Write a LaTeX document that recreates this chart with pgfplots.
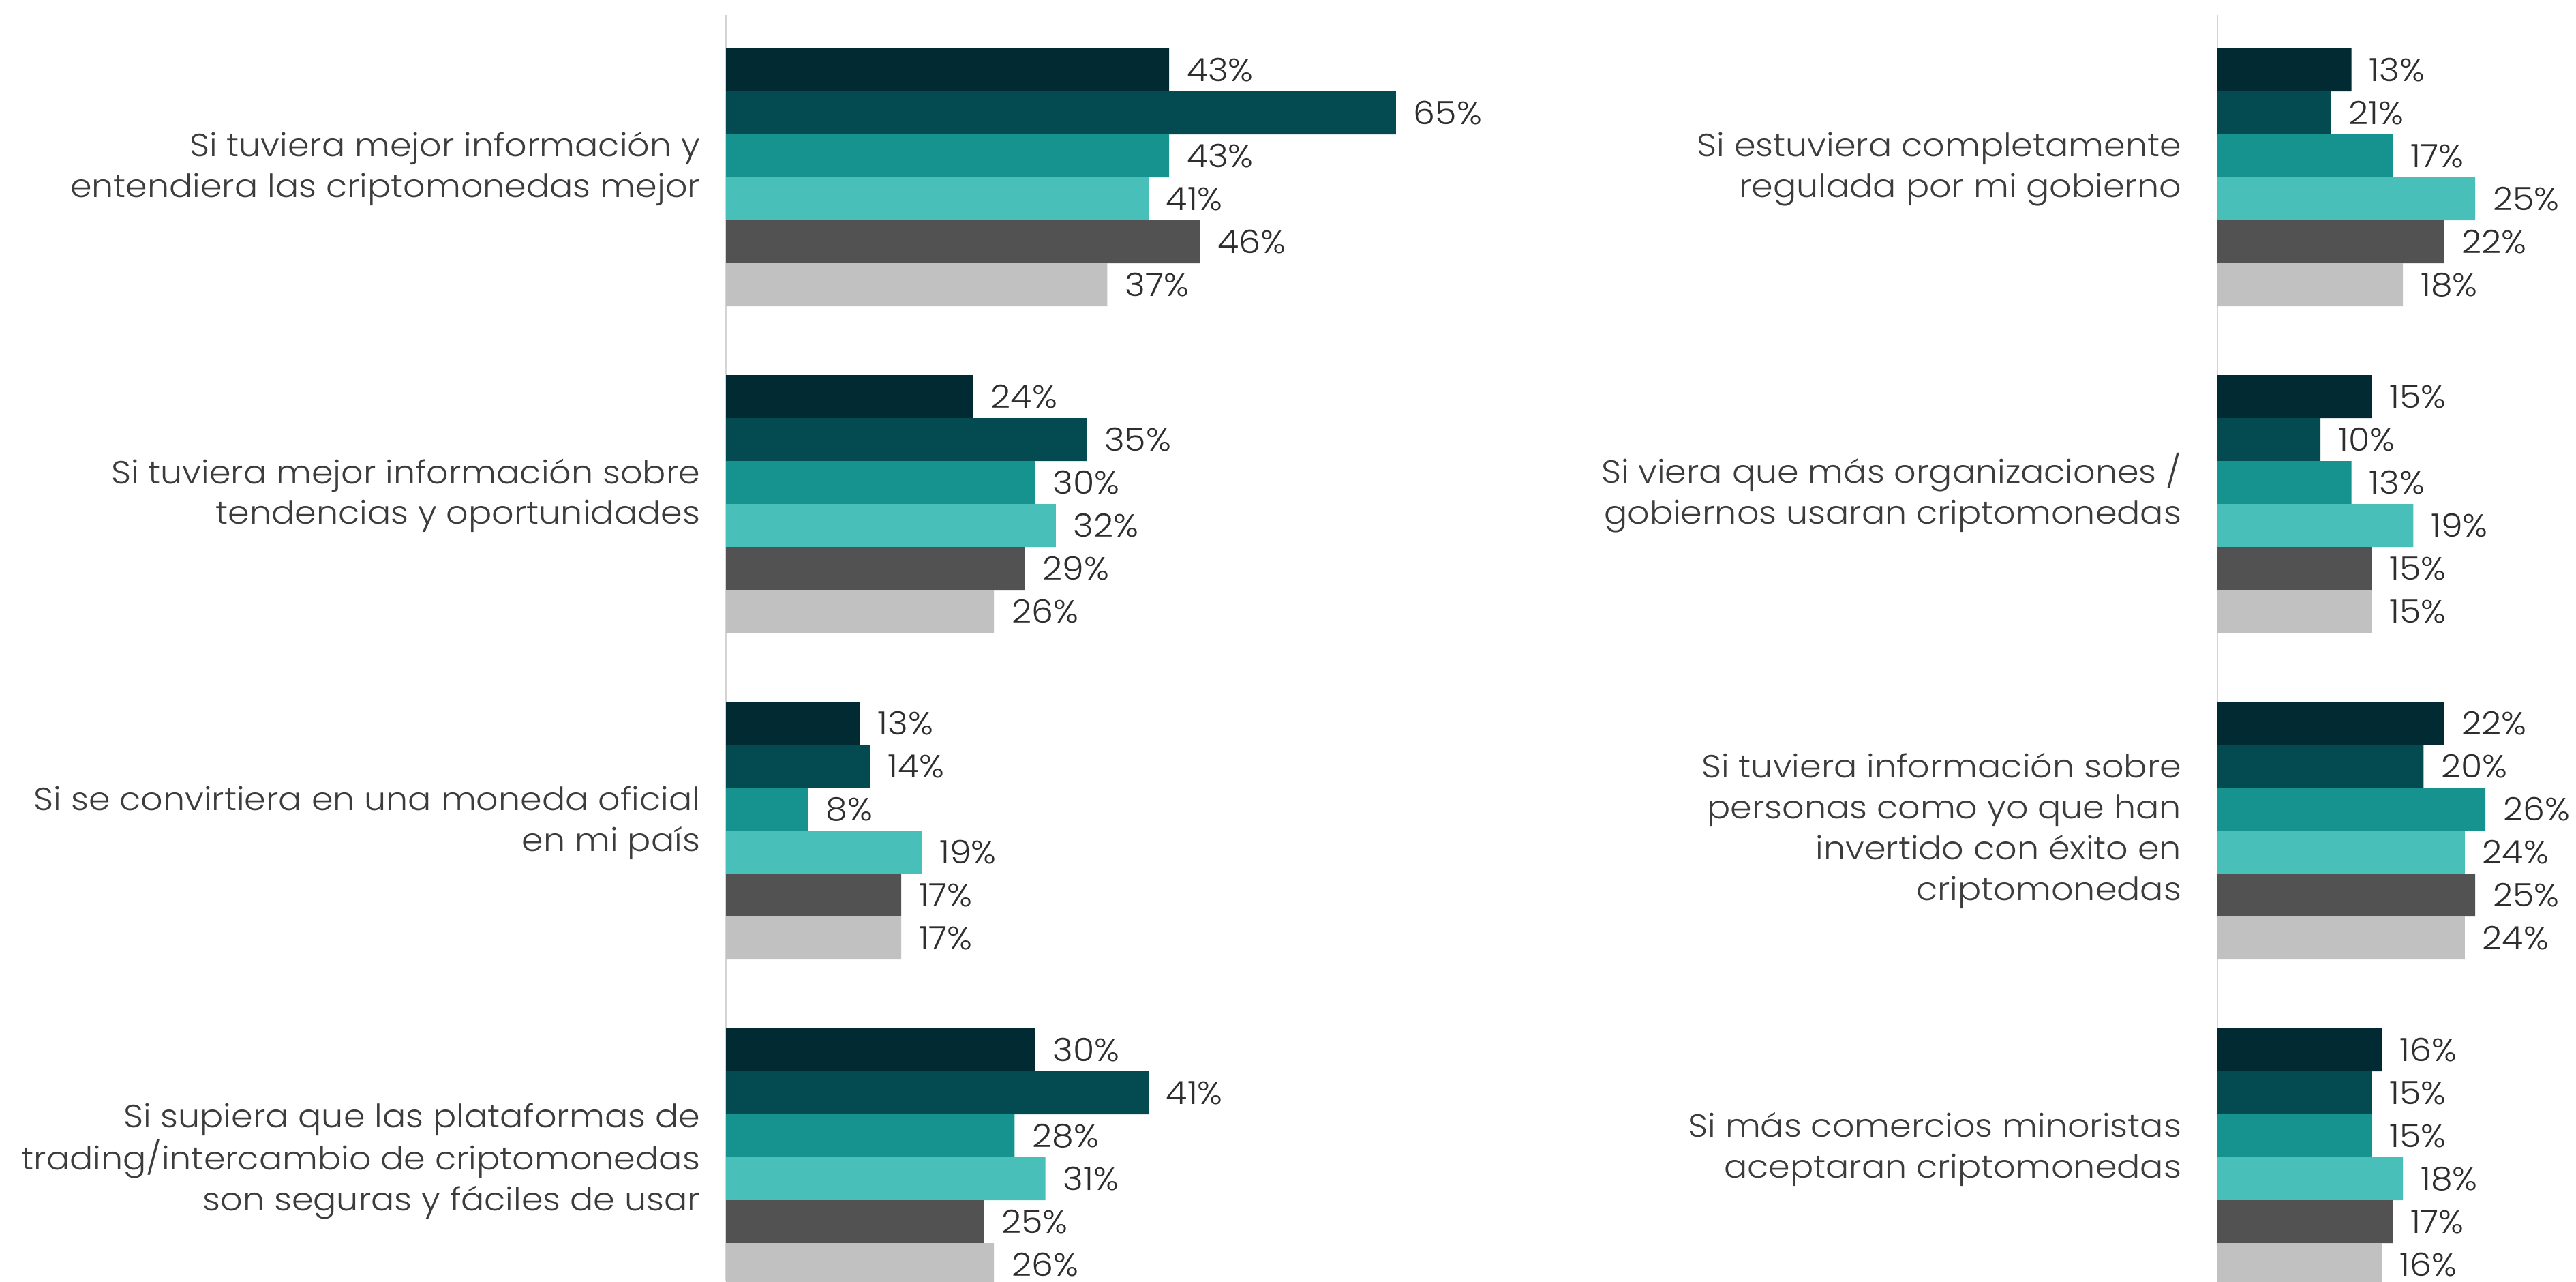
\documentclass[border=0pt]{standalone}
\usepackage{pgfplots}
\pgfplotsset{compat=1.18}
\usepackage{fontspec}
\setmainfont{Poppins Light}[FakeStretch=1.08]
\definecolor{c1}{HTML}{012A32}
\definecolor{c2}{HTML}{034B50}
\definecolor{c3}{HTML}{16938E}
\definecolor{c4}{HTML}{48C0B9}
\definecolor{c5}{HTML}{525252}
\definecolor{c6}{HTML}{C1C1C1}
\definecolor{axisgray}{HTML}{D4D4D4}
\definecolor{labtext}{HTML}{3C3C3C}
\definecolor{numtext}{HTML}{2E2E2E}
\newcommand{\lab}[1]{{\fontsize{9.4}{12}\selectfont\color{labtext}\begin{tabular}[t]{@{}r@{}}#1\end{tabular}}}
\pgfplotsset{
  panel/.style={
    scale only axis, height=375.8pt,
    xmin=0, ymin=0, ymax=1879, y dir=reverse,
    axis lines=none, ticks=none, clip=false,
    xbar, bar width=12.6pt, bar shift=0pt,
    point meta=explicit symbolic,
    nodes near coords={\pgfplotspointmeta\%},
    nodes near coords align={horizontal},
    every node near coord/.append style={anchor=west, inner sep=0pt, xshift=5pt,
      font=\fontsize{9.4}{12}\selectfont, text=numtext},
  },
}
\begin{document}
\begin{tikzpicture}
\useasboundingbox (0,0) rectangle (755.8pt,375.8pt);
% Left panel
\begin{axis}[panel, at={(213pt,375.8pt)}, anchor=north west, width=211.68pt, xmax=70]
\draw[line width=0.5pt, axisgray] (axis cs:0,22) -- (axis cs:0,1879);
\addplot[fill=c1, draw=none] coordinates {(43,102.5) [43] (24,581.5) [24] (13,1060.5) [13] (30,1539.5) [30]};
\addplot[fill=c2, draw=none] coordinates {(65,165.5) [65] (35,644.5) [35] (14,1123.5) [14] (41,1602.5) [41]};
\addplot[fill=c3, draw=none] coordinates {(43,228.5) [43] (30,707.5) [30] (8,1186.5) [8] (28,1665.5) [28]};
\addplot[fill=c4, draw=none] coordinates {(41,291.5) [41] (32,770.5) [32] (19,1249.5) [19] (31,1728.5) [31]};
\addplot[fill=c5, draw=none] coordinates {(46,354.5) [46] (29,833.5) [29] (17,1312.5) [17] (25,1791.5) [25]};
\addplot[fill=c6, draw=none] coordinates {(37,417.5) [37] (26,896.5) [26] (17,1375.5) [17] (26,1854.5) [26]};
\end{axis}
% Right panel
\begin{axis}[panel, at={(650.6pt,375.8pt)}, anchor=north west, width=90.72pt, xmax=30]
\draw[line width=0.5pt, axisgray] (axis cs:0,22) -- (axis cs:0,1879);
\addplot[fill=c1, draw=none] coordinates {(13,102.5) [13] (15,581.5) [15] (22,1060.5) [22] (16,1539.5) [16]};
\addplot[fill=c2, draw=none] coordinates {(11,165.5) [21] (10,644.5) [10] (20,1123.5) [20] (15,1602.5) [15]};
\addplot[fill=c3, draw=none] coordinates {(17,228.5) [17] (13,707.5) [13] (26,1186.5) [26] (15,1665.5) [15]};
\addplot[fill=c4, draw=none] coordinates {(25,291.5) [25] (19,770.5) [19] (24,1249.5) [24] (18,1728.5) [18]};
\addplot[fill=c5, draw=none] coordinates {(22,354.5) [22] (15,833.5) [15] (25,1312.5) [25] (17,1791.5) [17]};
\addplot[fill=c6, draw=none] coordinates {(18,417.5) [18] (15,896.5) [15] (24,1375.5) [24] (16,1854.5) [16]};
\end{axis}
% Category labels
\node[anchor=base east, inner sep=0pt] at (205.6pt,329.8pt) {\lab{Si tuviera mejor información y\\entendiera las criptomonedas mejor}};
\node[anchor=base east, inner sep=0pt] at (205.6pt,234.0pt) {\lab{Si tuviera mejor información sobre\\tendencias y oportunidades}};
\node[anchor=base east, inner sep=0pt] at (205.6pt,138.2pt) {\lab{Si se convirtiera en una moneda oficial\\en mi país}};
\node[anchor=base east, inner sep=0pt] at (205.6pt,45.2pt) {\lab{Si supiera que las plataformas de\\trading/intercambio de criptomonedas\\son seguras y fáciles de usar}};
\node[anchor=base east, inner sep=0pt] at (640.2pt,329.8pt) {\lab{Si estuviera completamente\\regulada por mi gobierno}};
\node[anchor=base east, inner sep=0pt] at (640.2pt,234.2pt) {\lab{Si viera que más organizaciones /\\gobiernos usaran criptomonedas}};
\node[anchor=base east, inner sep=0pt] at (640.2pt,147.8pt) {\lab{Si tuviera información sobre\\personas como yo que han\\invertido con éxito en\\criptomonedas}};
\node[anchor=base east, inner sep=0pt] at (640.2pt,42.4pt) {\lab{Si más comercios minoristas\\aceptaran criptomonedas}};
\end{tikzpicture}
\end{document}
